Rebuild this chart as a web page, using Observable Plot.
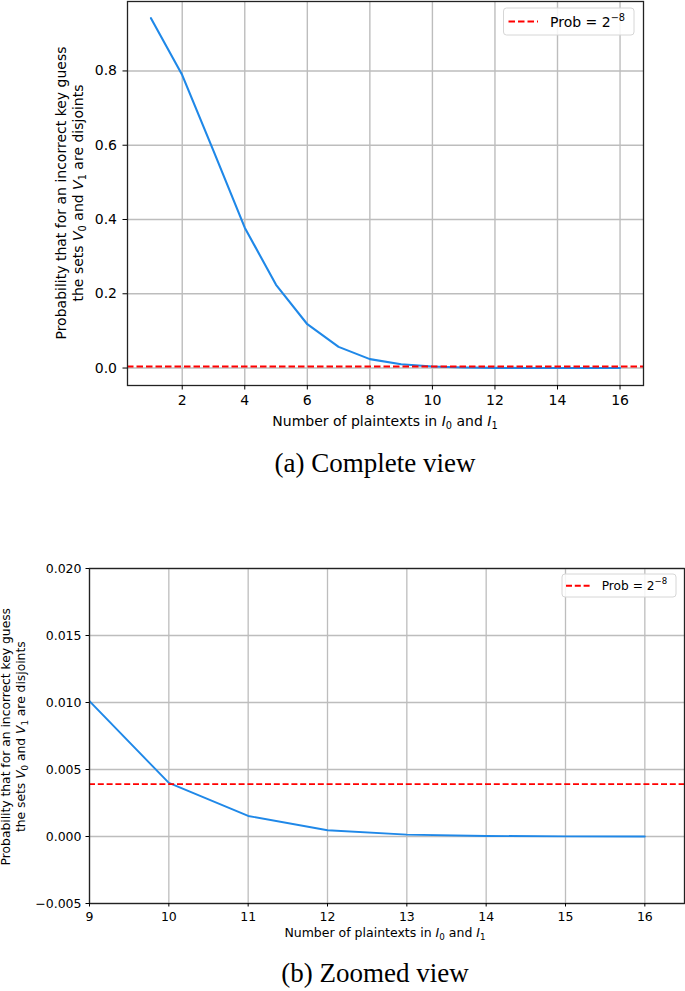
<!DOCTYPE html>
<html>
<head>
<meta charset="utf-8">
<script src="https://cdn.jsdelivr.net/npm/d3@7"></script>
<script src="https://cdn.jsdelivr.net/npm/@observablehq/plot@0.6"></script>
<style>
  body { margin: 0; background: #fff; }
  #wrap { position: relative; width: 685px; height: 991px; overflow: hidden; background: #fff; }
  #wrap svg { position: absolute; left: 0; }
  .cap { position: absolute; left: 375px; transform: translateX(-50%); white-space: nowrap;
         font-family: "Liberation Serif", serif; font-size: 27px; line-height: 27px; color: #000; }
</style>
</head>
<body>
<div id="wrap"></div>
<script>
// ---------------- data ----------------
const plaintexts = [1, 2, 3, 4, 5, 6, 7, 8, 9, 10, 11, 12, 13, 14, 15, 16];
const probability = [0.942, 0.789, 0.585, 0.378, 0.224, 0.118, 0.057, 0.024,
                     0.0101, 0.0040, 0.00153, 0.00047, 0.00014, 0.00004, 0.00001, 0.000003];
const threshold = 0.00390625;              // Prob = 2^-8
const xTicksA = [2, 4, 6, 8, 10, 12, 14, 16];
const yTicksA = [0, 0.2, 0.4, 0.6, 0.8];
const xDomainA = [0.25, 16.75];
const yDomainA = [-0.047, 0.987];
const xTicksB = [9, 10, 11, 12, 13, 14, 15, 16];
const yTicksB = [-0.005, 0, 0.005, 0.010, 0.015, 0.020];
const xDomainB = [9, 16.5];
const yDomainB = [-0.005, 0.020];
const captions = ["(a) Complete view", "(b) Zoomed view"];
const legendText = [{t: "Prob = 2"}, {t: "\u22128", sup: 1}];
const yLabelLines = [
  [{t: "Probability that for an incorrect key guess"}],
  [{t: "the sets "}, {t: "V", i: 1}, {t: "0", sub: 1}, {t: " and "}, {t: "V", i: 1}, {t: "1", sub: 1}, {t: " are disjoints"}]
];
const xLabelLine = [[{t: "Number of plaintexts in "}, {t: "I", i: 1}, {t: "0", sub: 1}, {t: " and "}, {t: "I", i: 1}, {t: "1", sub: 1}]];

const rows = plaintexts.map((n, k) => ({n, p: probability[k]}));

// ---------------- style ----------------
const FONT = "DejaVu Sans";
const BLUE = "#1f88e8";
const GRID = "#bdbdbd";
const SPINE = "#222";

function rich(svg, {x, y, rotate = 0, anchor = "middle", size, lineGap = 0, lines}) {
  const t = d3.select(svg).append("text")
    .attr("transform", `translate(${x},${y}) rotate(${rotate})`)
    .attr("text-anchor", anchor)
    .attr("font-family", FONT)
    .attr("font-size", size)
    .attr("fill", "black")
    .style("white-space", "pre");
  let cur = 0;
  lines.forEach((segs, i) => {
    segs.forEach((s, j) => {
      const target = i * lineGap + (s.sub ? size * 0.22 : s.sup ? -size * 0.42 : 0);
      const ts = t.append("tspan").text(s.t).attr("dy", target - cur);
      cur = target;
      if (j === 0) ts.attr("x", 0);
      if (s.i) ts.attr("font-style", "italic");
      if (s.sub || s.sup) ts.attr("font-size", size * 0.7);
    });
  });
}

function legend(svg, {x, y, w, h, lx1, lx2, ly, tx, ty, size, dash, lw}) {
  const g = d3.select(svg).append("g");
  g.append("rect").attr("x", x).attr("y", y).attr("width", w).attr("height", h)
    .attr("rx", 3).attr("fill", "white").attr("fill-opacity", 0.85)
    .attr("stroke", "#d6d6d6").attr("stroke-width", 1);
  g.append("line").attr("x1", lx1).attr("x2", lx2).attr("y1", ly).attr("y2", ly)
    .attr("stroke", "red").attr("stroke-width", lw).attr("stroke-dasharray", dash);
  rich(svg, {x: tx, y: ty, anchor: "start", size, lines: [legendText]});
}

const wrap = document.getElementById("wrap");

// ---------------- (a) complete view ----------------
const chartA = Plot.plot({
  width: 685, height: 440,
  marginLeft: 127, marginRight: 42, marginTop: 1, marginBottom: 55,
  x: {domain: xDomainA},
  y: {domain: yDomainA},
  style: {fontFamily: FONT, fontSize: "14px", color: "black", background: "transparent", overflow: "visible"},
  marks: [
    Plot.gridX(xTicksA, {stroke: GRID, strokeOpacity: 1, strokeWidth: 1.4}),
    Plot.gridY(yTicksA, {stroke: GRID, strokeOpacity: 1, strokeWidth: 1.4}),
    Plot.line(rows, {x: "n", y: "p", stroke: BLUE, strokeWidth: 2.1, clip: true}),
    Plot.ruleY([threshold], {stroke: "red", strokeWidth: 2, strokeDasharray: "6.5,3"}),
    Plot.frame({stroke: SPINE, strokeWidth: 1.3}),
    Plot.axisX(xTicksA, {tickSize: 4.5, tickPadding: 5.5, label: null, tickFormat: d3.format("d")}),
    Plot.axisY(yTicksA, {tickSize: 4.5, tickPadding: 6, label: null, tickFormat: d3.format(".1f")})
  ]
});
chartA.style.top = "0px";
wrap.appendChild(chartA);
rich(chartA, {x: 66, y: 193, rotate: -90, size: 14, lineGap: 17, lines: yLabelLines});
rich(chartA, {x: 385, y: 426, size: 14, lines: xLabelLine});
legend(chartA, {x: 503.5, y: 8, w: 130.5, h: 27, lx1: 508.5, lx2: 538, ly: 21.5,
                tx: 550, ty: 26.5, size: 14, dash: "6.5,3", lw: 2});

// ---------------- (b) zoomed view ----------------
const chartB = Plot.plot({
  width: 685, height: 460,
  marginLeft: 89, marginRight: 1, marginTop: 68, marginBottom: 57,
  x: {domain: xDomainB},
  y: {domain: yDomainB},
  style: {fontFamily: FONT, fontSize: "12.5px", color: "black", background: "transparent", overflow: "visible"},
  marks: [
    Plot.gridX(xTicksB, {stroke: GRID, strokeOpacity: 1, strokeWidth: 1.3}),
    Plot.gridY(yTicksB, {stroke: GRID, strokeOpacity: 1, strokeWidth: 1.3}),
    Plot.line(rows, {x: "n", y: "p", stroke: BLUE, strokeWidth: 1.9, clip: true}),
    Plot.ruleY([threshold], {stroke: "red", strokeWidth: 1.9, strokeDasharray: "6,2.8"}),
    Plot.frame({stroke: SPINE, strokeWidth: 1.3}),
    Plot.axisX(xTicksB, {tickSize: 3.5, tickPadding: 5.2, label: null, tickFormat: d3.format("d")}),
    Plot.axisY(yTicksB, {tickSize: 3.5, tickPadding: 4.5, label: null, tickFormat: d3.format(".3f")})
  ]
});
chartB.style.top = "500px";
wrap.appendChild(chartB);
rich(chartB, {x: 10, y: 236.7, rotate: -90, size: 12.3, lineGap: 15, lines: yLabelLines});
rich(chartB, {x: 385, y: 437, size: 12.5, lines: xLabelLine});
legend(chartB, {x: 562, y: 74, w: 114, h: 23, lx1: 566, lx2: 592, ly: 85.7,
                tx: 601.7, ty: 89.5, size: 12.2, dash: "6,2.8", lw: 1.9});

// ---------------- captions ----------------
[[captions[0], 450.4], [captions[1], 960.4]].forEach(([txt, top]) => {
  const d = document.createElement("div");
  d.className = "cap";
  d.style.top = top + "px";
  d.textContent = txt;
  wrap.appendChild(d);
});
</script>
</body>
</html>
